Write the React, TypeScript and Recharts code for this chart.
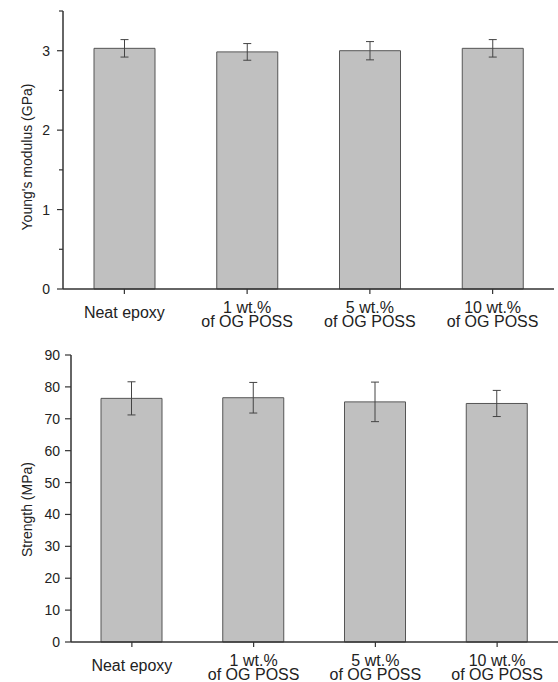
import React from 'react';
import { BarChart, Bar, XAxis, YAxis, ErrorBar } from 'recharts';

const categories = ['Neat epoxy', '1 wt.%\nof OG POSS', '5 wt.%\nof OG POSS', '10 wt.%\nof OG POSS'];
const modulus = [3.03, 2.985, 3.0, 3.03];
const modulusErr = [0.11, 0.105, 0.115, 0.11];
const strength = [76.4, 76.6, 75.3, 74.8];
const strengthErr = [5.2, 4.8, 6.2, 4.1];
const modulusTicks = [0, 0.5, 1, 1.5, 2, 2.5, 3, 3.5];
const strengthTicks = [0, 10, 20, 30, 40, 50, 60, 70, 80, 90];

const modulusData = categories.map((c, i) => ({ name: c, value: modulus[i], err: modulusErr[i] }));
const strengthData = categories.map((c, i) => ({ name: c, value: strength[i], err: strengthErr[i] }));

const FONT = '"Liberation Sans", Arial, sans-serif';
const AXIS = '#333';
const TEXT = '#222';

const XTick = (props: any) => {
  const { x, y, payload } = props;
  const lines = String(payload.value).split('\n');
  const base = lines.length === 1 ? 24 : 19;
  return (
    <g>
      {lines.map((l, i) => (
        <text key={i} x={x} y={y + base + i * 14} textAnchor="middle" fontFamily={FONT} fontSize={16} fill={TEXT}>
          {l}
        </text>
      ))}
    </g>
  );
};

const TS = 6;
const TM1 = 7;
const TopYTick = (props: any) => {
  const { x, y, payload } = props;
  const axisX = x + TS + TM1;
  const major = Number.isInteger(payload.value);
  return (
    <g>
      <line x1={axisX - (major ? 6 : 4)} x2={axisX} y1={y} y2={y} stroke={AXIS} strokeWidth={1.2} />
      {major && (
        <text x={x} y={y} dy="0.36em" textAnchor="end" fontFamily={FONT} fontSize={14} fill={TEXT}>
          {payload.value}
        </text>
      )}
    </g>
  );
};

const yLabel = (text: string, cx: number, dy: number) => (props: any) => {
  const vb = props.viewBox;
  const cy = vb.y + vb.height / 2 + dy;
  return (
    <text
      x={cx}
      y={cy}
      transform={`rotate(-90, ${cx}, ${cy})`}
      textAnchor="middle"
      dominantBaseline="central"
      fontFamily={FONT}
      fontSize={14}
      fill={TEXT}
    >
      {text}
    </text>
  );
};

export default function App() {
  return (
    <div style={{ position: 'absolute', left: 0, top: 0, width: 558, height: 682, background: '#fff' }}>
      <BarChart
        width={558}
        height={340}
        data={modulusData}
        margin={{ top: 11, right: 4, left: 0, bottom: 0 }}
      >
        <XAxis
          dataKey="name"
          interval={0}
          height={51}
          tickSize={5}
          tickMargin={0}
          tick={<XTick />}
          axisLine={{ stroke: AXIS, strokeWidth: 1.5 }}
          tickLine={{ stroke: AXIS, strokeWidth: 1.2 }}
        />
        <YAxis
          width={63}
          domain={[0, 3.5]}
          ticks={modulusTicks}
          interval={0}
          tickSize={TS}
          tickMargin={TM1}
          tick={<TopYTick />}
          tickLine={false}
          axisLine={{ stroke: AXIS, strokeWidth: 1.5 }}
          label={{ content: yLabel("Young's modulus (GPa)", 27, 7) }}
        />
        <Bar dataKey="value" fill="#c0c0c0" stroke="#555" strokeWidth={1} barSize={61} isAnimationActive={false}>
          <ErrorBar dataKey="err" width={4} stroke="#444" strokeWidth={1} />
        </Bar>
      </BarChart>
      <BarChart
        width={558}
        height={342}
        data={strengthData}
        margin={{ top: 15, right: 0, left: 0, bottom: 0 }}
      >
        <XAxis
          dataKey="name"
          interval={0}
          height={40}
          tickSize={5}
          tickMargin={0}
          tick={<XTick />}
          axisLine={{ stroke: AXIS, strokeWidth: 1.5 }}
          tickLine={{ stroke: AXIS, strokeWidth: 1.2 }}
        />
        <YAxis
          width={71}
          domain={[0, 90]}
          ticks={strengthTicks}
          interval={0}
          tickSize={6}
          tickMargin={5}
          tick={{ fontFamily: FONT, fontSize: 14, fill: TEXT }}
          tickLine={{ stroke: AXIS, strokeWidth: 1.2 }}
          axisLine={{ stroke: AXIS, strokeWidth: 1.5 }}
          label={{ content: yLabel('Strength (MPa)', 27, 11) }}
        />
        <Bar dataKey="value" fill="#c0c0c0" stroke="#555" strokeWidth={1} barSize={61} isAnimationActive={false}>
          <ErrorBar dataKey="err" width={4} stroke="#444" strokeWidth={1} />
        </Bar>
      </BarChart>
    </div>
  );
}
